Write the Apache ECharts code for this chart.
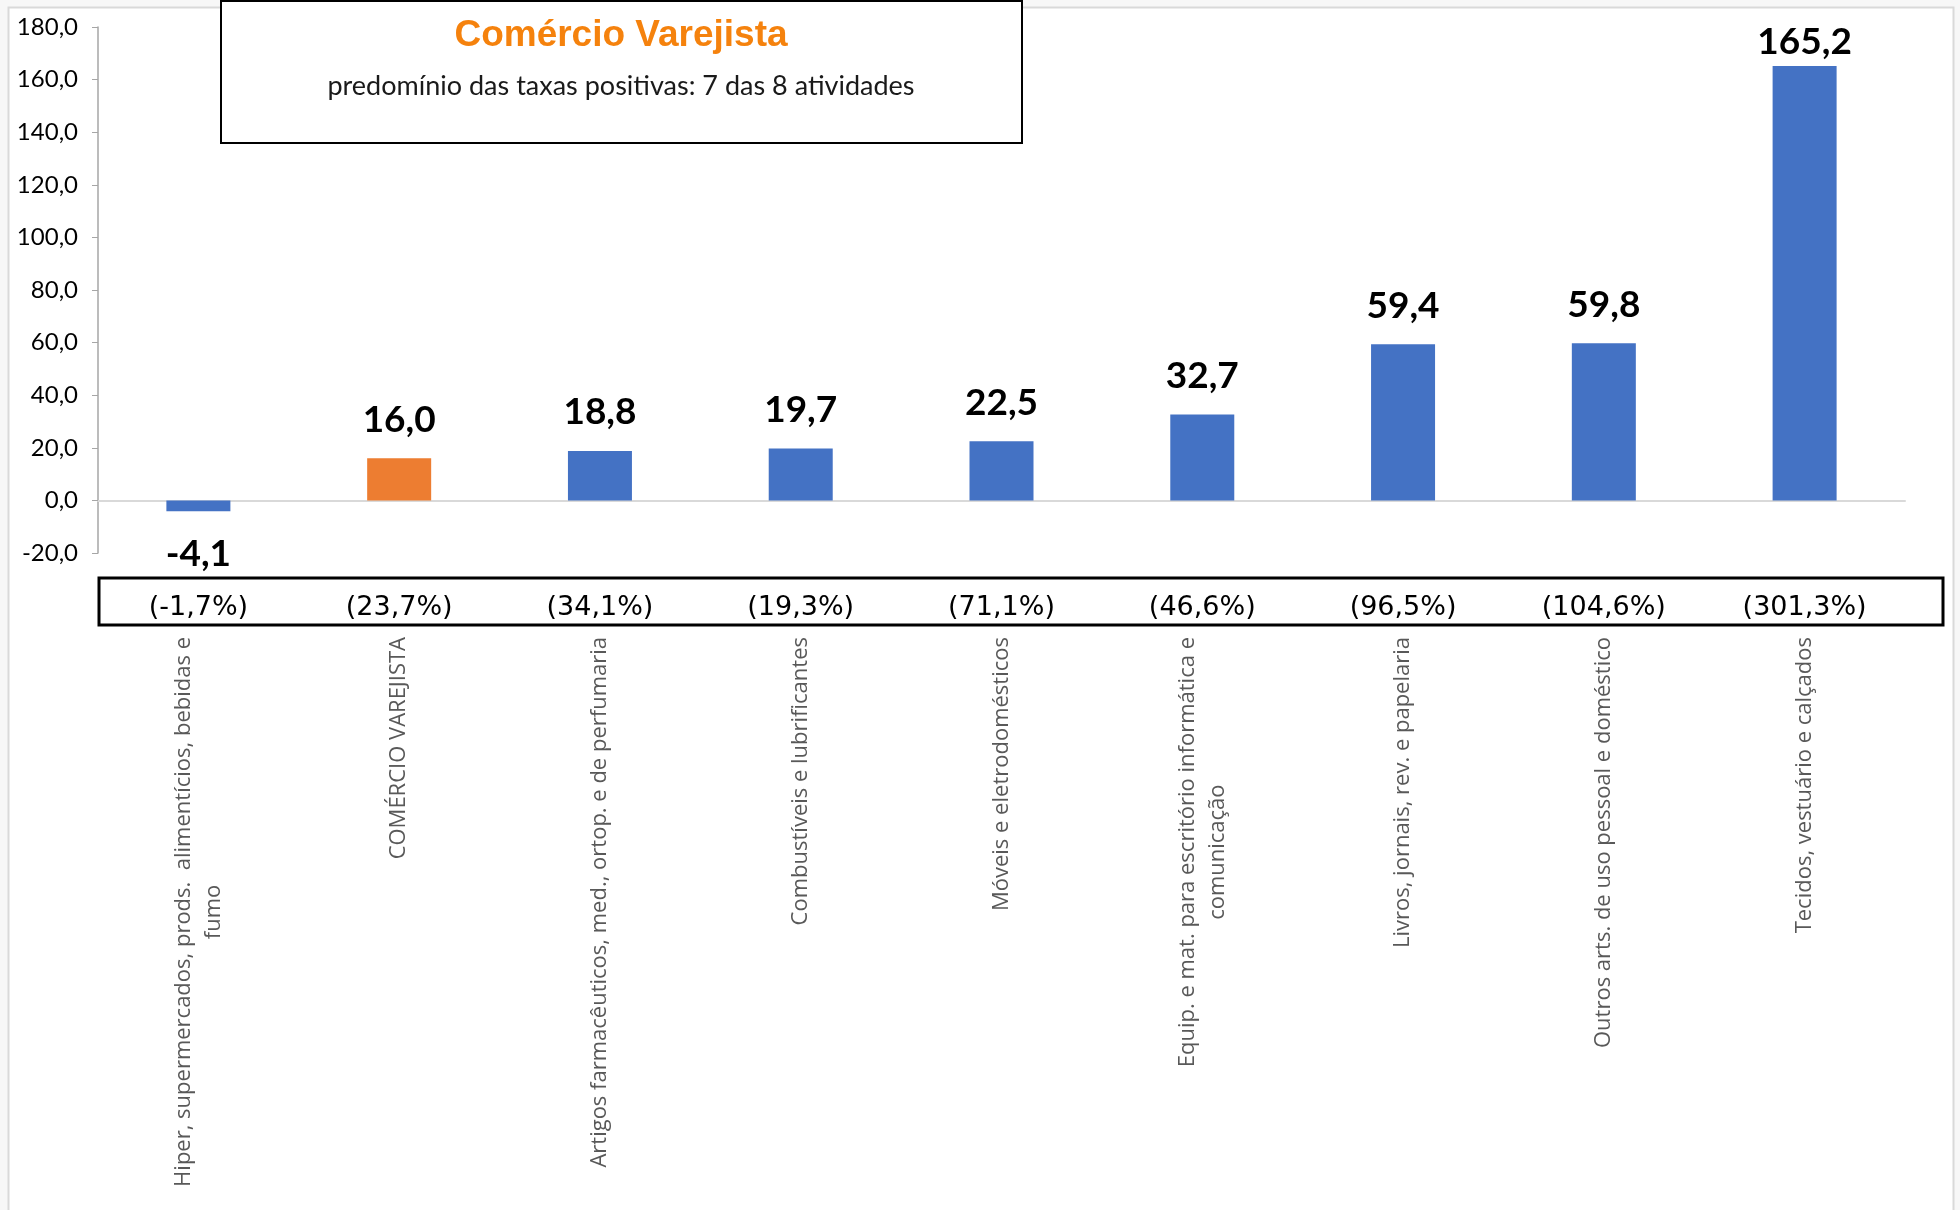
<!DOCTYPE html>
<html>
<head>
<meta charset="utf-8">
<script src="https://cdn.jsdelivr.net/npm/echarts@6/dist/echarts.min.js"></script>
<style>
    html, body { margin: 0; padding: 0; background: #f7f7f7; }
    #chart { width: 1960px; height: 1210px; }
</style>
</head>
<body>
<div id="chart"></div>
<script>
    // atividades (rótulos do eixo x)
    var categorias = [
        'Hiper, supermercados, prods.  alimentícios, bebidas e\nfumo',
        'COMÉRCIO VAREJISTA',
        'Artigos farmacêuticos, med., ortop. e de perfumaria',
        'Combustíveis e lubrificantes',
        'Móveis e eletrodomésticos',
        'Equip. e mat. para escritório informática e\ncomunicação',
        'Livros, jornais, rev. e papelaria',
        'Outros arts. de uso pessoal e doméstico',
        'Tecidos, vestuário e calçados'
    ];
    // variação (barras)
    var valores = [-4.1, 16.0, 18.8, 19.7, 22.5, 32.7, 59.4, 59.8, 165.2];
    // taxas entre parênteses
    var taxas = [-1.7, 23.7, 34.1, 19.3, 71.1, 46.6, 96.5, 104.6, 301.3];
    var destaque = 1; // COMÉRCIO VAREJISTA

    var virgula = function (v) {
        return v.toFixed(1).replace('.', ',');
    };

    var dadosBarras = valores.map(function (v, i) {
        var item = {
            value: v,
            itemStyle: { color: i === destaque ? '#ED7D31' : '#4472C4' }
        };
        if (v < 0) {
            item.label = { position: 'bottom', distance: 24 };
        } else if (v > 150) {
            item.label = { distance: 5 };
        }
        return item;
    });

    var chart = echarts.init(document.getElementById('chart'));
    chart.setOption({
        backgroundColor: '#f7f7f7',
        animation: false,
        grid: { left: 98, right: 55, top: 27, bottom: 657, containLabel: false },
        graphic: [
            {
                type: 'rect', z: -10, silent: true,
                shape: { x: 8.5, y: 7.5, width: 1945, height: 1215 },
                style: { fill: '#ffffff', stroke: '#d9d9d9', lineWidth: 2 }
            },
            {
                type: 'rect', z: 10, silent: true,
                shape: { x: 221, y: 1, width: 801, height: 142 },
                style: { fill: '#ffffff', stroke: '#000000', lineWidth: 2 }
            },
            {
                type: 'text', z: 11, silent: true,
                x: 621, y: 36,
                style: {
                    text: 'Comércio Varejista',
                    font: 'bold 37px "Liberation Sans", Arial, sans-serif',
                    fill: '#F5820D', align: 'center', verticalAlign: 'middle'
                }
            },
            {
                type: 'text', z: 11, silent: true,
                x: 621, y: 86,
                style: {
                    text: 'predomínio das taxas positivas: 7 das 8 atividades',
                    font: '27px Lato, "Open Sans", sans-serif',
                    fill: '#1a1a1a', align: 'center', verticalAlign: 'middle'
                }
            },
            {
                type: 'rect', z: 10, silent: true,
                shape: { x: 99, y: 578, width: 1844, height: 47 },
                style: { fill: 'none', stroke: '#000000', lineWidth: 3 }
            }
        ],
        xAxis: [
            {
                type: 'category',
                data: categorias,
                axisLine: { onZero: true, lineStyle: { color: '#d9d9d9', width: 2 } },
                axisTick: { show: false },
                axisLabel: { show: false }
            },
            {
                // taxas entre parênteses
                type: 'category',
                data: categorias,
                position: 'bottom',
                axisLine: { show: false, onZero: false },
                axisTick: { show: false },
                axisLabel: {
                    margin: 55,
                    verticalAlign: 'middle',
                    color: '#000',
                    fontFamily: '"DejaVu Sans", sans-serif',
                    fontSize: 27,
                    formatter: function (value, index) {
                        return '(' + virgula(taxas[index]) + '%)';
                    }
                }
            },
            {
                // nomes das atividades
                type: 'category',
                data: categorias,
                position: 'bottom',
                axisLine: { show: false, onZero: false },
                axisTick: { show: false },
                axisLabel: {
                    interval: 0,
                    rotate: 90,
                    margin: 84,
                    formatter: function (value) {
                        return value.split('\n').map(function (l) {
                            return '{c|' + l + '}';
                        }).join('\n');
                    },
                    rich: {
                        c: {
                            align: 'center',
                            color: '#595959',
                            fontFamily: '"Open Sans", sans-serif',
                            fontSize: 22,
                            lineHeight: 30
                        }
                    }
                }
            }
        ],
        yAxis: {
            type: 'value',
            min: -20,
            max: 180,
            interval: 20,
            splitLine: { show: false },
            axisLine: { show: true, lineStyle: { color: '#a6a6a6', width: 1.5 } },
            axisTick: { show: true, length: 6, lineStyle: { color: '#a6a6a6' } },
            axisLabel: {
                margin: 20,
                color: '#000',
                fontFamily: 'Lato, sans-serif',
                fontSize: 24,
                formatter: function (v) { return virgula(v); }
            }
        },
        series: [
            {
                type: 'bar',
                xAxisIndex: 0,
                barWidth: 64,
                data: dadosBarras,
                label: {
                    show: true,
                    position: 'top',
                    distance: 20,
                    color: '#000',
                    fontFamily: 'Lato, sans-serif',
                    fontWeight: 'bold',
                    fontSize: 37,
                    formatter: function (p) { return virgula(p.value); }
                }
            }
        ]
    });
</script>
</body>
</html>
